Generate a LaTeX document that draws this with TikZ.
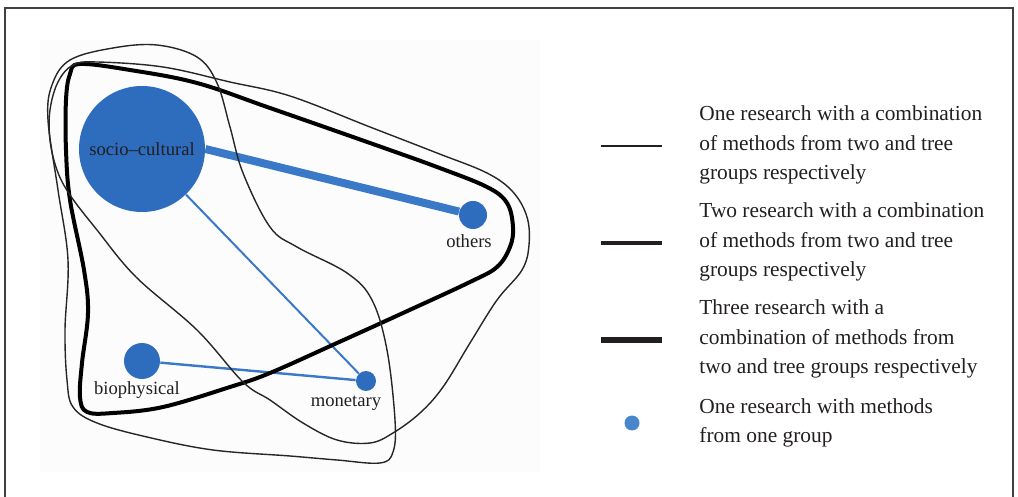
\documentclass[tikz,border=0pt]{standalone}
\usepackage{fontspec}
\setmainfont{Liberation Serif}
\usetikzlibrary{positioning}

\definecolor{nodeblue}{RGB}{46,108,190}
\definecolor{edgeblue}{RGB}{58,120,200}
\definecolor{dotblue}{RGB}{74,134,204}
\definecolor{inkgray}{RGB}{35,31,32}

\tikzset{
  group/.style={circle, fill=nodeblue, inner sep=0pt},
  grouplabel/.style={font=\fontsize{9.3}{11}\selectfont, text=inkgray, inner sep=0pt},
  hull/.style={draw=black!85, line width=0.7pt},
  legendtext/.style={anchor=west, align=left, inner sep=0pt,
    font=\fontsize{10.7}{14.7}\selectfont, text=inkgray},
}

\begin{document}
\begin{tikzpicture}[x=0.5pt, y=-0.5pt]
    \useasboundingbox (0,0) rectangle (1018,497);
    % Marco
    \draw[black!75, line width=0.75pt] (5,497) -- (5,8) -- (1013,8) -- (1013,497);
    \fill[black!1] (40,40) rectangle (540,472);

    % Grupos de metodos
    \node[group, minimum size=63pt] (socio) at (142,149) {};
    \node[group, minimum size=14pt] (others) at (473,215) {};
    \node[group, minimum size=18pt] (biophysical) at (142,361) {};
    \node[group, minimum size=10pt] (monetary) at (366,381) {};

    \node[grouplabel] (sociolabel) at (socio) {socio--cultural};
    \node[grouplabel] (otherslabel) at (469,241) {others};
    \node[grouplabel] (biolabel) at (137,390) {biophysical};
    \node[grouplabel] (monetarylabel) at (346,403) {monetary};

    % Enlaces entre grupos
    \draw[edgeblue, line width=4pt] (socio.east) -- (others);
    \draw[edgeblue, line width=1pt] (socio) -- (monetary);
    \draw[edgeblue, line width=1.2pt] (biophysical) -- (monetary);

    % Combinaciones
    \draw[black, line width=2pt] plot[smooth cycle, tension=0.6] coordinates {
        (80,64) (130,70) (197,83) (270,108) (370,143) (437,167) (487,187)
        (507,203) (513,227) (510,247) (497,267) (470,282) (403,313)
        (337,343) (270,373) (230,387) (163,407) (113,413) (87,412)
        (80,397) (82,363) (88,313) (84,270) (70,200) (66,150) (66,100) (70,74)};
    \draw[hull] plot[smooth cycle, tension=0.6] coordinates {
        (73,65) (97,62) (163,67) (230,82) (290,96) (370,127) (437,153)
        (487,173) (513,192) (527,217) (529,245) (522,270) (497,300)
        (470,343) (443,387) (420,413) (393,433) (370,443) (337,440)
        (303,423) (270,400) (243,382) (197,330) (136,277) (97,230)
        (70,195) (57,170) (50,140) (50,110) (58,82)};
    \draw[hull] plot[smooth cycle, tension=0.6] coordinates {
        (113,48) (157,45) (197,57) (217,83) (230,127) (243,173) (270,227)
        (297,247) (347,273) (372,300) (387,350) (395,420) (393,452)
        (380,463) (337,460) (290,456) (213,450) (147,437) (97,423)
        (73,407) (67,380) (65,330) (68,260) (58,190) (48,120) (52,85) (70,60)};

    % Leyenda
    \draw[inkgray, line width=1pt] (601,146) -- (662,146);
    \draw[inkgray, line width=1.6pt] (601,243) -- (662,243);
    \draw[inkgray, line width=2.8pt] (601,340) -- (662,340);
    \fill[dotblue] (632,423) circle (7.5);

    \node[legendtext] (onetext) at (699,145)
        {One research with a combination\\of methods from two and tree\\groups respectively};
    \node[legendtext] (twotext) at (699,242)
        {Two research with a combination\\of methods from two and tree\\groups respectively};
    \node[legendtext] (threetext) at (699,339)
        {Three research with a\\combination of methods from\\two and tree groups respectively};
    \node[legendtext] (dottext) at (699,423)
        {One research with methods\\from one group};
\end{tikzpicture}
\end{document}
